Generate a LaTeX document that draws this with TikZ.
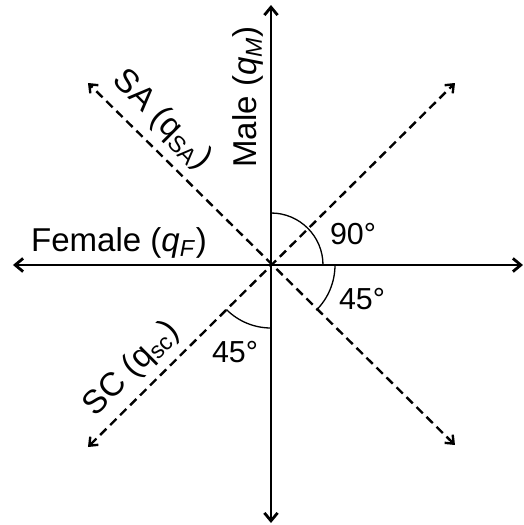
\documentclass[tikz,border=0pt]{standalone}
\usepackage{fontspec}
\setmainfont{Liberation Sans}
\usetikzlibrary{arrows.meta}

\begin{document}
\begin{tikzpicture}[
  x=0.02cm, y=0.02cm,
  axis/.style={{Straight Barb[length=4.5pt,width=7.5pt]}-{Straight Barb[length=4.5pt,width=7.5pt]}, line width=1.6pt},
  diag/.style={{Straight Barb[length=4pt,width=6.5pt]}-{Straight Barb[length=4pt,width=6.5pt]}, dash pattern=on 5pt off 3pt, line width=1.35pt},
  anglearc/.style={line width=0.75pt},
  lab/.style={font=\fontsize{18.8}{22}\selectfont, inner sep=0pt},
  deg/.style={font=\fontsize{17.3}{20}\selectfont, inner sep=0pt}
]
\useasboundingbox (-271,-260) rectangle (253,265);

% Axis end points
\coordinate (O) at (0,0);
\coordinate (east) at (252,0);
\coordinate (west) at (-258,0);
\coordinate (north) at (0,260);
\coordinate (south) at (0,-258);
\coordinate (ne) at (184,182);
\coordinate (sw) at (-183,-182);
\coordinate (nw) at (-183,182);
\coordinate (se) at (184,-180);

% Solid axes
\draw[axis] (west) -- (east);
\draw[axis] (south) -- (north);

% Dashed axes
\draw[diag] (sw) -- (ne);
\draw[diag] (se) -- (nw);

% Angles
\draw[anglearc] (52,0) arc[start angle=0, end angle=90, radius=52];
\draw[anglearc] (64,0) arc[start angle=0, end angle=-45, radius=64];
\draw[anglearc] (0,-63) arc[start angle=270, end angle=225, radius=63];

\node[deg] (d90) at (82,31) {90°};
\node[deg] (d45a) at (91,-34) {45°};
\node[deg] (d45b) at (-36,-87) {45°};

% Labels
\node[lab, rotate=90] (male) at (-23,168) {Male (\textit{q}\textsubscript{\textit{M}})};
\node[lab] (female) at (-152,22) {Female (\textit{q}\textsubscript{\textit{F}})};
\node[lab, rotate=-45] (sa) at (-109,145) {SA (q\textsubscript{SA})};
\node[lab, rotate=45] (sc) at (-139,-104) {SC (q\textsubscript{sc})};
\end{tikzpicture}
\end{document}
